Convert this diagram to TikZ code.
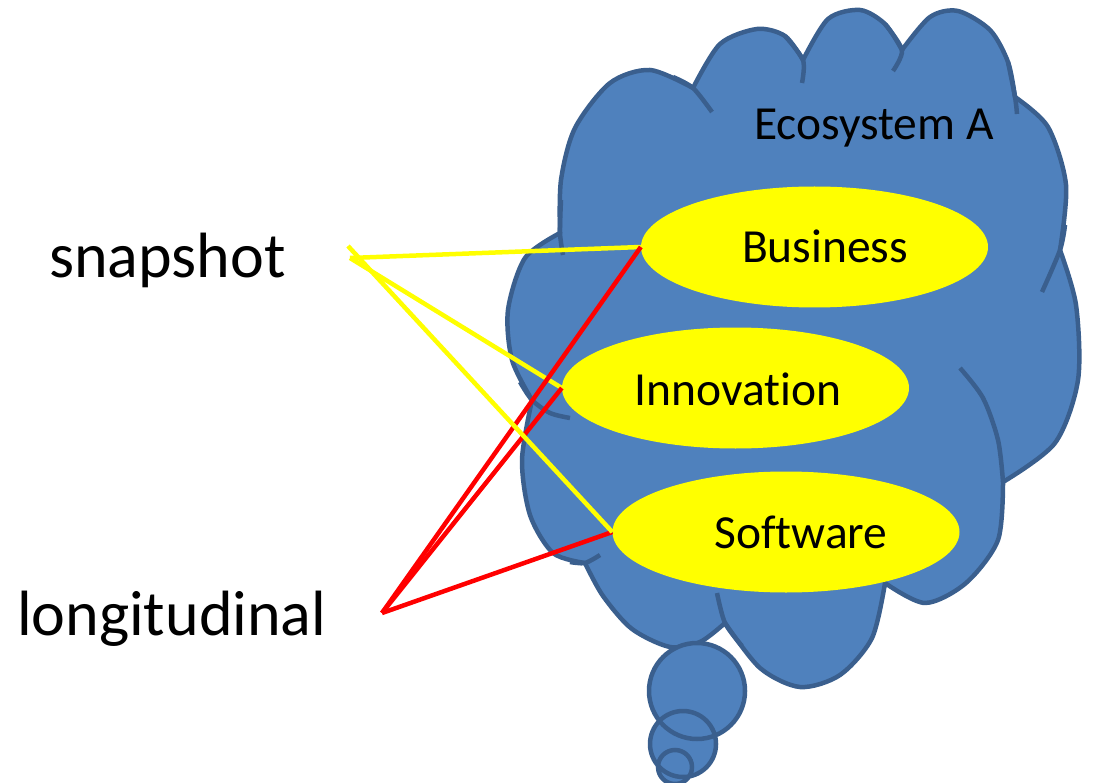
\documentclass[tikz,border=0pt]{standalone}
\usepackage{fontspec}
\setmainfont{Carlito}[Ligatures=NoCommon]
\usetikzlibrary{shapes.geometric}
\definecolor{cloudfill}{HTML}{4F81BD}
\definecolor{cloudline}{HTML}{3A5F8E}
\definecolor{topicyellow}{HTML}{FFFF00}
\definecolor{longred}{HTML}{FF0000}
\begin{document}
\begin{tikzpicture}[x=1pt,y=-1pt,
  cloudedge/.style={draw=cloudline, line width=4.5pt, line join=round},
  tail/.style={draw=cloudline, line width=4.5pt},
  topic/.style={ellipse, fill=topicyellow, minimum width=347pt, minimum height=121pt, inner sep=0pt},
  topictext/.style={font=\fontsize{47.5}{57}\selectfont, anchor=base},
  sidetext/.style={font=\fontsize{64}{76}\selectfont, anchor=base west, inner sep=0pt},
  snapline/.style={draw=topicyellow, line width=4.5pt},
  longline/.style={draw=longred, line width=4.5pt},
]
\useasboundingbox (0,0) rectangle (1094,783);

% cloud body: one lobe after another, clockwise from the upper left
\path[fill=cloudfill, cloudedge]
  plot[smooth] coordinates {(560,233) (561,180) (575,128) (610,83) (650,70) (693,88)}
  -- plot[smooth] coordinates {(693,88) (720,44) (757,29) (785,36) (803,60)}
  -- plot[smooth] coordinates {(803,60) (828,19) (860,10) (885,24) (902,50)}
  -- plot[smooth] coordinates {(902,50) (930,17) (958,11) (990,30) (1008,62) (1015,97)}
  -- plot[smooth] coordinates {(1015,97) (1048,127) (1066,185) (1060,250)}
  -- plot[smooth] coordinates {(1060,250) (1076,305) (1078,380) (1055,443) (1003,482)}
  -- plot[smooth] coordinates {(1003,482) (998,540) (966,583) (925,603) (885,583)}
  -- plot[smooth] coordinates {(885,583) (872,638) (840,675) (800,687) (760,668) (725,623)}
  -- plot[smooth] coordinates {(725,623) (700,642) (670,647) (632,629) (603,596) (585,563)}
  -- plot[smooth] coordinates {(585,563) (553,553) (530,515) (522,460) (532,400)}
  -- plot[smooth] coordinates {(532,400) (512,360) (508,310) (525,258) (560,233)}
  -- cycle;

% lobe edges that run on inside the cloud
\draw[tail] plot[smooth] coordinates {(561,200) (560,233) (563,255)};
\draw[tail] plot[smooth] coordinates {(673,77) (693,88) (712,112)};
\draw[tail] plot[smooth] coordinates {(785,36) (803,60) (802,83)};
\draw[tail] plot[smooth] coordinates {(885,24) (902,50) (893,71)};
\draw[tail] plot[smooth] coordinates {(1008,62) (1015,97) (1017,114)};
\draw[tail] plot[smooth] coordinates {(1065,225) (1060,250) (1042,292)};
\draw[tail] plot[smooth] coordinates {(960,368) (983,398) (998,440) (1003,482)};
\draw[tail] plot[smooth] coordinates {(742,646) (725,623) (717,593)};
\draw[tail] plot[smooth] coordinates {(570,562) (585,563) (600,555)};
\draw[tail] plot[smooth] coordinates {(520,382) (532,400) (550,413) (570,418)};

% thought bubbles
\fill[cloudfill] (697,691) circle (48) (683,744) circle (33) (675,767) circle (17);
\draw[tail] (697,691) circle (48) (683,744) circle (33) (675,767) circle (17);

\node[topictext] (eco) at (874,140) {Ecosystem A};

% the three topics
\node[topic] (bus) at (814.5,247) {};
\node[topic] (inn) at (735.5,388) {};
\node[topic] (sw) at (786,532) {};
\node[topictext] (busl) at (825,263) {Business};
\node[topictext] (innl) at (738,405) {Innovation};
\node[topictext] (swl) at (801,548) {Software};

% study types
\node[sidetext] (snap) at (49,278) {snapshot};
\node[sidetext] (long) at (17,635) {longitudinal};

\coordinate (snapA) at (350,258);
\coordinate (snapB) at (348,246);
\coordinate (longi) at (382,613);

\draw[snapline] (snapA) -- (bus.west);
\draw[snapline] (snapA) -- (inn.west);
\draw[longline] (longi) -- (bus.west);
\draw[longline] (longi) -- (inn.west);
\draw[longline] (longi) -- (sw.west);
\draw[snapline] (snapB) -- (sw.west);
\end{tikzpicture}
\end{document}
